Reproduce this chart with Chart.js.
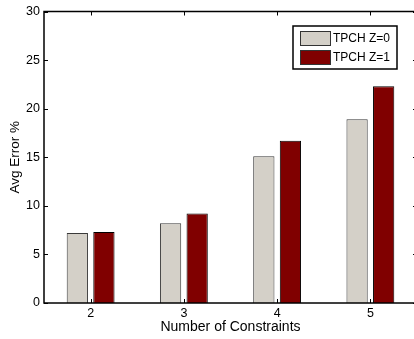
<!DOCTYPE html>
<html><head><meta charset="utf-8">
<script src="https://cdn.jsdelivr.net/npm/chart.js@4/dist/chart.umd.min.js"></script>
<style>
html,body{margin:0;padding:0;background:#fff;overflow:hidden;width:414px;height:339px;}
#wrap{position:relative;width:418px;height:339px;}
</style></head>
<body><div id="wrap"><canvas id="c" width="418" height="339"></canvas></div>
<script>
const categories = ['2', '3', '4', '5'];
const seriesNames = ['TPCH Z=0', 'TPCH Z=1'];
const z0Values = [7.2, 8.2, 15.1, 18.9];
const z1Values = [7.3, 9.2, 16.7, 22.3];
const yTicks = [0, 5, 10, 15, 20, 25, 30];

const FONT = 'Liberation Sans, Arial, Helvetica, sans-serif';

const inwardTicks = {
  id: 'inwardTicks',
  afterDatasetsDraw(chart) {
    const ctx = chart.ctx, a = chart.chartArea;
    const xs = chart.scales.x, ys = chart.scales.y;
    ctx.save();
    ctx.strokeStyle = '#000';
    ctx.lineWidth = 1;
    const L = 4;
    yTicks.forEach(v => {
      const y = Math.round(ys.getPixelForValue(v)) + 0.5;
      ctx.beginPath();
      ctx.moveTo(a.left, y); ctx.lineTo(a.left + L, y);
      ctx.moveTo(a.right, y); ctx.lineTo(a.right - L, y);
      ctx.stroke();
    });
    categories.forEach((c, i) => {
      const x = Math.round(xs.getPixelForValue(i)) + 0.5;
      ctx.beginPath();
      ctx.moveTo(x, a.bottom); ctx.lineTo(x, a.bottom - L);
      ctx.moveTo(x, a.top); ctx.lineTo(x, a.top + L);
      ctx.stroke();
    });
    ctx.lineWidth = 1.5;
    ctx.strokeRect(a.left, a.top, a.right - a.left, a.bottom - a.top);
    // legend
    const bx = 293, by = 26, bw = 104, bh = 43;
    ctx.fillStyle = '#fff';
    ctx.fillRect(bx, by, bw, bh);
    ctx.lineWidth = 1.5;
    ctx.strokeStyle = '#000';
    ctx.strokeRect(bx, by, bw, bh);
    ctx.font = '12px ' + FONT;
    ctx.textBaseline = 'middle';
    chart.data.datasets.forEach((ds, i) => {
      const sy = by + 5 + i * 19;
      ctx.fillStyle = ds.backgroundColor;
      ctx.fillRect(bx + 7, sy, 30, 14);
      ctx.lineWidth = 1;
      ctx.strokeStyle = '#333';
      ctx.strokeRect(bx + 7.5, sy + 0.5, 30, 14);
      ctx.fillStyle = '#000';
      ctx.fillText(ds.label, bx + 40, sy + 7.5);
    });
    ctx.restore();
  }
};

new Chart(document.getElementById('c'), {
  type: 'bar',
  data: {
    labels: categories,
    datasets: [
      { label: seriesNames[0], data: z0Values, backgroundColor: '#d4d0c8', borderColor: '#3a3a3a', borderWidth: 1 },
      { label: seriesNames[1], data: z1Values, backgroundColor: '#800000', borderColor: '#000', borderWidth: 1 }
    ]
  },
  options: {
    responsive: false,
    animation: false,
    devicePixelRatio: 1,
    layout: { padding: { top: 9, right: 1, left: 0, bottom: 0 } },
    plugins: { legend: { display: false }, tooltip: { enabled: false } },
    datasets: { bar: { categoryPercentage: 0.57, barPercentage: 0.8 } },
    scales: {
      x: {
        grid: { display: false, drawTicks: false },
        border: { display: false },
        ticks: { color: '#000', font: { family: FONT, size: 12.5 }, padding: 3 },
        title: { display: true, text: 'Number of Constraints', color: '#000', font: { family: FONT, size: 14 }, padding: { top: 0, bottom: 3 } },
        afterFit(s) { s.height = 36; }
      },
      y: {
        min: 0, max: 30,
        afterBuildTicks(s) { s.ticks = yTicks.map(v => ({ value: v })); },
        grid: { display: false, drawTicks: false },
        border: { display: false },
        ticks: { color: '#000', font: { family: FONT, size: 12.5 }, padding: 4 },
        title: { display: true, text: 'Avg Error %', color: '#000', font: { family: FONT, size: 13.5 }, padding: { top: 7, bottom: 0 } },
        afterFit(s) { s.width = 44; }
      }
    }
  },
  plugins: [inwardTicks]
});
</script></body></html>
